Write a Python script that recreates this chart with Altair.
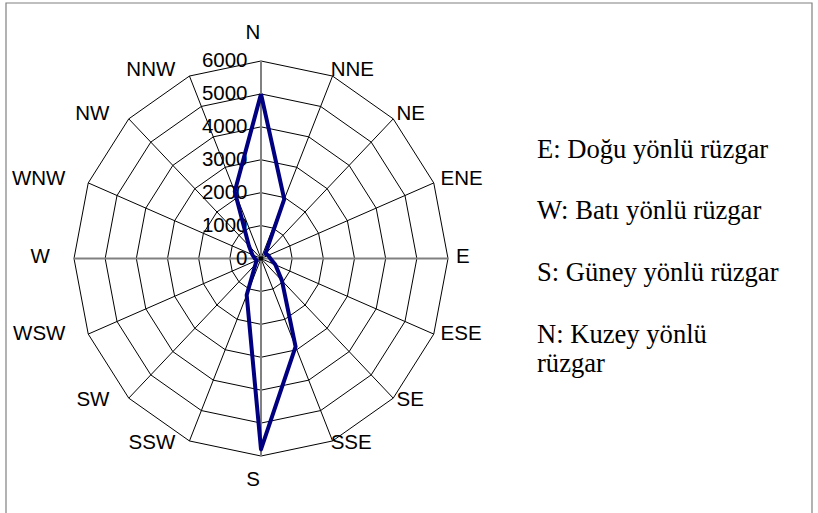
import altair as alt
import pandas as pd

# Wind direction frequencies (16-point compass rose)
directions = ["N", "NNE", "NE", "ENE", "E", "ESE", "SE", "SSE",
              "S", "SSW", "SW", "WSW", "W", "WNW", "NW", "NNW"]
wind_values = [5000, 1950, 200, 250, 300, 500, 950, 2900,
               5800, 1200, 250, 150, 200, 300, 550, 2200]

# Radial grid
ring_levels = [1000, 2000, 3000, 4000, 5000, 6000]
tick_values = [0, 1000, 2000, 3000, 4000, 5000, 6000]
tick_labels = ["0", "1000", "2000", "3000", "4000", "5000", "6000"]

# Explanatory notes shown to the right of the rose
legend_entries = [
    ["E: Doğu yönlü rüzgar"],
    ["W: Batı yönlü rüzgar"],
    ["S: Güney yönlü rüzgar"],
    ["N: Kuzey yönlü", "rüzgar"],
]

RMAX = 6000
N_DIR = len(directions)
STEP = f"(2 * PI / {N_DIR})"

# ---- tables built from the lists above ----
series_df = pd.DataFrame({
    "dir": directions + [directions[0]],
    "idx": list(range(N_DIR)) + [N_DIR],
    "value": wind_values + [wind_values[0]],
})

ring_rows = []
for lvl in ring_levels:
    for k in range(N_DIR + 1):
        ring_rows.append({"level": lvl, "idx": k, "value": lvl})
ring_df = pd.DataFrame(ring_rows)

spoke_df = pd.DataFrame({
    "idx": list(range(N_DIR)),
    "value": [RMAX] * N_DIR,
    "cardinal": [k % 4 == 0 for k in range(N_DIR)],
})

tick_df = pd.DataFrame({"value": tick_values, "label": tick_labels})
label_df = pd.DataFrame({"dir": directions, "idx": list(range(N_DIR))})

xs = alt.Scale(domain=[-RMAX, RMAX], nice=False, zero=False)
ys = alt.Scale(domain=[-RMAX, RMAX], nice=False, zero=False)


def polar(chart):
    return chart.transform_calculate(
        px=f"datum.value * sin(datum.idx * {STEP})",
        py=f"datum.value * cos(datum.idx * {STEP})",
    )


X = alt.X("px:Q", scale=xs, axis=None)
Y = alt.Y("py:Q", scale=ys, axis=None)
X0 = alt.X("zero:Q", scale=xs, axis=None)
Y0 = alt.Y("zero:Q", scale=ys, axis=None)

rings = polar(alt.Chart(ring_df)).mark_line(
    color="black", strokeWidth=1
).encode(x=X, y=Y, detail="level:N", order="idx:Q")

spoke_base = polar(alt.Chart(spoke_df)).transform_calculate(zero="0")
spokes = spoke_base.transform_filter("!datum.cardinal").mark_rule(
    color="black", strokeWidth=1
).encode(x=X0, y=Y0, x2="px:Q", y2="py:Q")
axes_main = spoke_base.transform_filter("datum.cardinal").mark_rule(
    color="#808080", strokeWidth=2
).encode(x=X0, y=Y0, x2="px:Q", y2="py:Q")

ticks = alt.Chart(tick_df).transform_calculate(zero="0").mark_text(
    align="right", baseline="middle", dx=-13.5, font="Liberation Sans", fontSize=20.5, color="black"
).encode(x=X0, y=alt.Y("value:Q", scale=ys, axis=None), text="label:N")

series = polar(alt.Chart(series_df)).mark_line(
    color="#000080", strokeWidth=4, strokeJoin="round"
).encode(x=X, y=Y, order="idx:Q")

hub = alt.Chart(pd.DataFrame({"zero": [0]})).mark_point(
    filled=True, color="black", size=22, opacity=1
).encode(x=X0, y=Y0)

# Category labels sit on an ellipse just outside the outer ring
LAB_CX = -257
LAB_CY = 55
LAB_RX = 6514
LAB_RY = 6137
LAB_AXIAL = 650
lab_base = alt.Chart(label_df).transform_calculate(
    s=f"sin(datum.idx * {STEP})",
    c=f"cos(datum.idx * {STEP})",
).transform_calculate(
    lx=f"{LAB_CX} + {LAB_RX} * datum.s",
    ly=f"{LAB_CY} + {LAB_RY} * datum.c + (abs(datum.s) < 0.1 ? (datum.c > 0 ? {LAB_AXIAL} : -{LAB_AXIAL}) : 0)",
)
LX = alt.X("lx:Q", scale=xs, axis=None)
LY = alt.Y("ly:Q", scale=ys, axis=None)
lab_style = dict(baseline="middle", font="Liberation Sans", fontSize=20.5, color="black")
labels_r = lab_base.transform_filter("datum.s > 0.1").mark_text(align="left", **lab_style).encode(
    x=LX, y=LY, text="dir:N")
labels_l = lab_base.transform_filter("datum.s < -0.1").mark_text(align="right", **lab_style).encode(
    x=LX, y=LY, text="dir:N")
labels_c = lab_base.transform_filter("abs(datum.s) <= 0.1").mark_text(align="center", **lab_style).encode(
    x=LX, y=LY, text="dir:N")

# Notes block
PLOT_LEFT, PLOT_TOP = 74, 61
notes = []
for i, lines in enumerate(legend_entries):
    notes.append(
        alt.Chart(pd.DataFrame({"t": ["\n".join(lines)]})).mark_text(
            align="left", baseline="alphabetic", font="Liberation Serif", fontSize=26.6,
            color="black", lineBreak="\n", lineHeight=29,
        ).encode(x=alt.value(537 - PLOT_LEFT), y=alt.value(157.7 + 61.7 * i - PLOT_TOP), text="t:N")
    )

frame = alt.Chart(pd.DataFrame({"k": [0]})).mark_rect(
    fill=None, fillOpacity=0, stroke="#808080", strokeWidth=1.2
).encode(x=alt.value(6 - PLOT_LEFT), x2=alt.value(812 - PLOT_LEFT),
         y=alt.value(3 - PLOT_TOP), y2=alt.value(540 - PLOT_TOP))

chart = alt.layer(
    frame, rings, spokes, axes_main, ticks, series, hub, labels_r, labels_l, labels_c, *notes
).properties(
    width=374, height=395,
    background="white",
    autosize=alt.AutoSizeParams(type="none"),
    padding={"left": PLOT_LEFT, "top": PLOT_TOP, "right": 818 - PLOT_LEFT - 374, "bottom": 513 - PLOT_TOP - 395},
).configure_view(strokeWidth=0, strokeOpacity=0)

chart.save("out.html", embed_options={"renderer": "svg", "actions": False})
